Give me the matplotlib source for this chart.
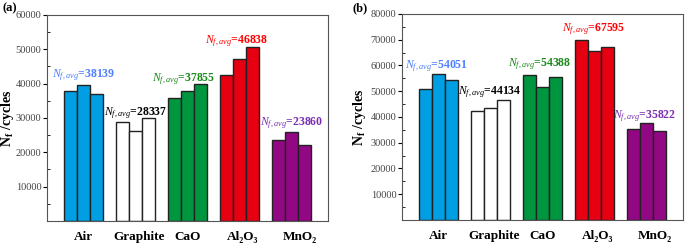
import numpy as np
import matplotlib.pyplot as plt

# fonts: Times-like serif, mathtext in the same family
plt.rcParams['font.family'] = ['Liberation Serif', 'DejaVu Serif']
plt.rcParams['mathtext.fontset'] = 'custom'
plt.rcParams['mathtext.rm'] = 'Liberation Serif'
plt.rcParams['mathtext.it'] = 'Liberation Serif:italic'
plt.rcParams['mathtext.bf'] = 'Liberation Serif:bold'

# data
categories = ['Air', 'Graphite', 'CaO', 'Al\u2082O\u2083', 'MnO\u2082']
bar_colors = ['#009fe3', 'white', '#009640', '#e60012', '#920783']
text_colors = ['#4d7fff', 'black', '#1a8a1a', '#ff0000', '#7a2fb0']

vals_a = [[37900, 39500, 37000],
          [28800, 26100, 30100],
          [35700, 37900, 39965],
          [42600, 47100, 50800],
          [23600, 26000, 22000]]
avg_a = [38139, 28337, 37855, 46838, 23860]
label_y_a = [42500, 31400, 41400, 52500, 28400]
label_x_a = [0.0, 1.0, 1.92, 2.95, 4.0]

vals_b = [[51000, 56600, 54550],
          [42300, 43500, 46600],
          [56300, 51500, 55350],
          [70000, 65800, 67000],
          [35200, 37600, 34650]]
avg_b = [54051, 44134, 54388, 67595, 35822]
label_y_b = [59800, 49600, 60600, 74000, 40500]
label_x_b = [-0.05, 0.98, 1.95, 2.98, 3.97]

tick_shift = [0.0, 0.07, 0.0, 0.06, 0.16]


def draw_panel(ax, vals, avgs, ly, lx, ymax):
    width = 0.25
    x = np.arange(len(categories))
    for i, group in enumerate(vals):
        for j, v in enumerate(group):
            ax.bar(x[i] + (j - 1) * width, v, width, color=bar_colors[i],
                   edgecolor='#222222', linewidth=1.0)
        ax.text(lx[i], ly[i], r'$N_{f,avg}$=%d' % avgs[i], ha='center',
                va='center', color=text_colors[i], fontweight='bold', fontsize=8.5)
    ax.set_xlim(-0.71, 4.71)
    ax.set_ylim(0, ymax)
    ax.set_yticks(np.arange(10000, ymax + 1, 10000))
    ax.set_yticks(np.arange(5000, ymax, 10000), minor=True)
    ax.tick_params(axis='y', which='major', direction='out', length=3,
                   labelsize=7.5, labelcolor='#444444', pad=1)
    ax.tick_params(axis='y', which='minor', direction='in', length=2)
    ax.set_xticks(x + np.array(tick_shift))
    ax.set_xticklabels(categories, fontweight='bold', fontsize=9.5)
    ax.tick_params(axis='x', length=0, pad=7)
    ax.set_ylabel(r'N$_\mathbf{f}$ /cycles', fontweight='bold', fontsize=10)
    for s in ax.spines.values():
        s.set_color('#555555')


fig = plt.figure(figsize=(6.85, 2.44), dpi=100)
ax1 = fig.add_axes([0.0686, 0.0943, 0.4102, 0.8443])
ax2 = fig.add_axes([0.5869, 0.0984, 0.4102, 0.8443])

draw_panel(ax1, vals_a, avg_a, label_y_a, label_x_a, 60000)
draw_panel(ax2, vals_b, avg_b, label_y_b, label_x_b, 80000)
ax1.yaxis.set_label_coords(-0.11, 0.5)
ax2.yaxis.set_label_coords(-0.12, 0.5)

fig.text(0.003, 0.965, '(a)', fontweight='bold', fontsize=9, va='center')
fig.text(0.515, 0.965, '(b)', fontweight='bold', fontsize=9, va='center')

fig.savefig('out.png', dpi=100)
